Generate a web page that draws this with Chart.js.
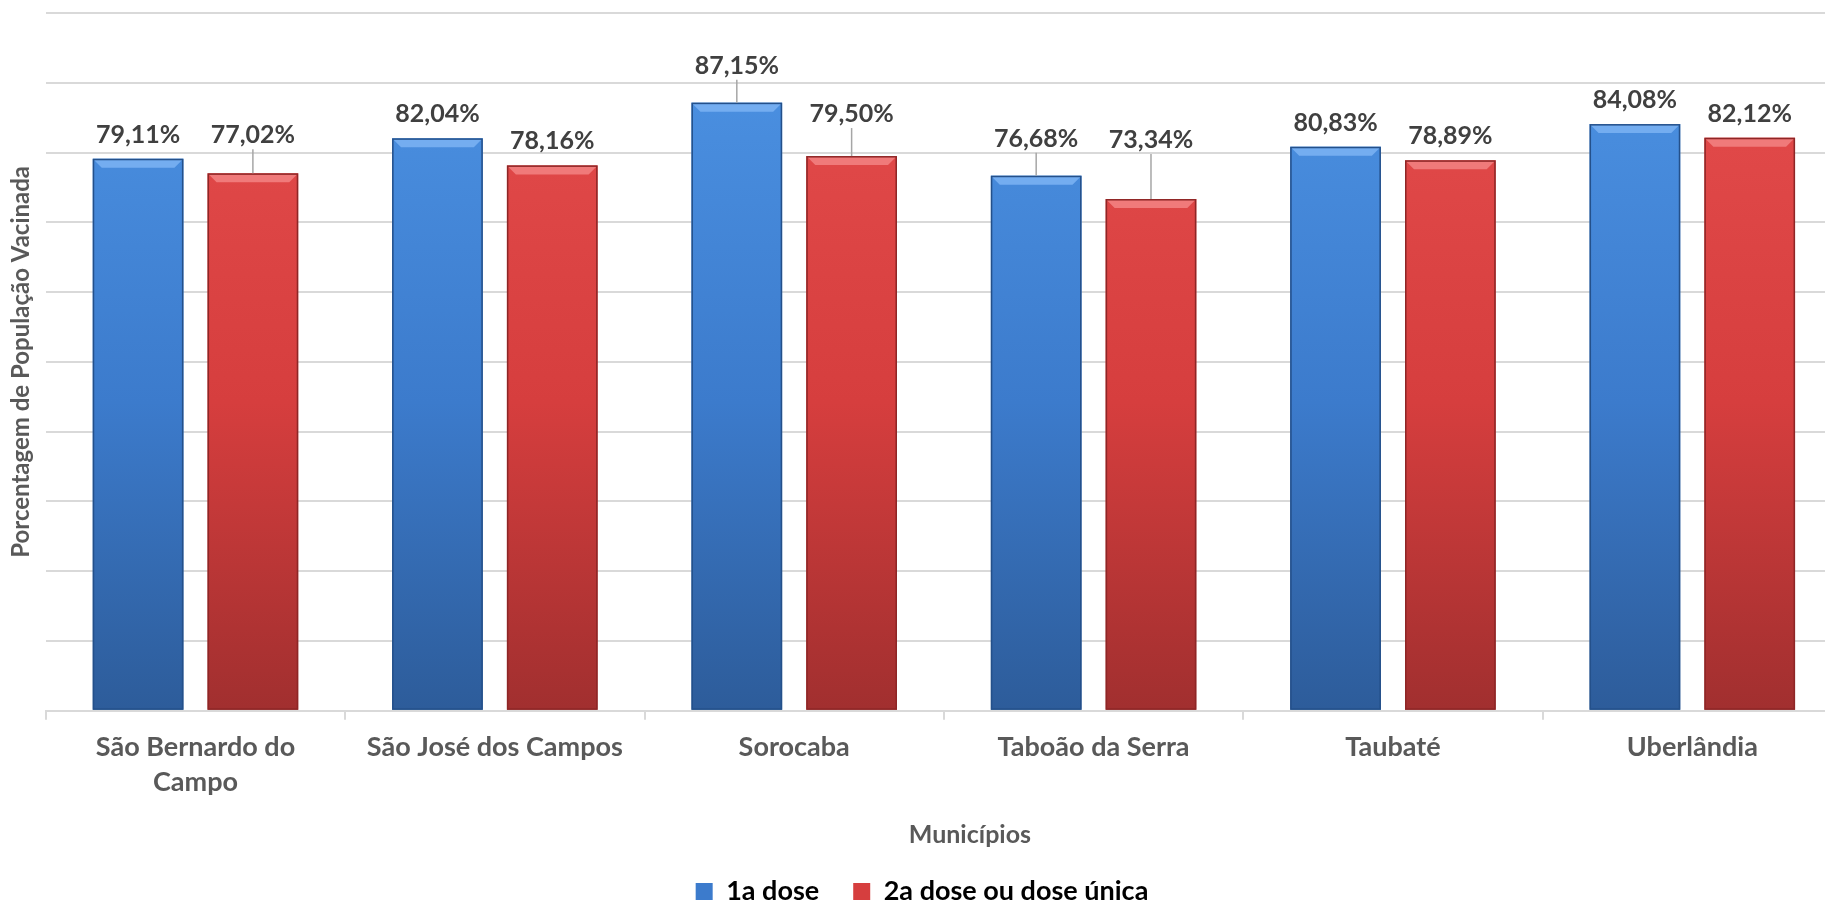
<!DOCTYPE html>
<html>
<head>
<meta charset="utf-8">
<script src="https://cdn.jsdelivr.net/npm/chart.js@4.4.0/dist/chart.umd.min.js"></script>
<style>
  html, body { margin: 0; padding: 0; background: #fff; overflow: hidden; }
  #wrap { width: 1862px; height: 901px; }
</style>
</head>
<body>
<div id="wrap"><canvas id="vacChart"></canvas></div>
<script>
const municipios = [["São Bernardo do", "Campo"], "São José dos Campos", "Sorocaba", "Taboão da Serra", "Taubaté", "Uberlândia"];
const primeiraDose = [79.11, 82.04, 87.15, 76.68, 80.83, 84.08];
const segundaDose = [77.02, 78.16, 79.50, 73.34, 78.89, 82.12];
const seriesNames = ["1a dose", "2a dose ou dose única"];
const xTitle = "Municípios";
const yTitle = "Porcentagem de População Vacinada";

// extra lift (px) for the labels that were dragged up with a leader line
const liftPrimeira = [0, 0, 13, 13, 0, 0];
const liftSegunda = [14, 0, 18, 35, 0, 0];

const FONT = "Lato, 'Open Sans', sans-serif";
const GREY = "#595959";
const blue = { top: "#4a8fe0", mid: "#3c7bcc", bottom: "#2d5c9a", bevel: "#74adf0", edge: "#24508a" };
const red = { top: "#e24a4a", mid: "#d63e3e", bottom: "#a12f2f", bevel: "#f07a7a", edge: "#8e2626" };

function gradient(c) {
  return function (ctx) {
    const chart = ctx.chart;
    const area = chart.chartArea;
    if (!area) return c.mid;
    const g = chart.ctx.createLinearGradient(0, area.top + 80, 0, area.bottom);
    g.addColorStop(0, c.top);
    g.addColorStop(0.5, c.mid);
    g.addColorStop(1, c.bottom);
    return g;
  };
}

function fmt(v) {
  return v.toFixed(2).replace(".", ",") + "%";
}

// bevel on top of bars, like the excel 3d effect
const bevelPlugin = {
  id: "bevel",
  afterDatasetsDraw(chart) {
    const ctx = chart.ctx;
    const styles = [blue, red];
    chart.data.datasets.forEach((ds, i) => {
      const meta = chart.getDatasetMeta(i);
      meta.data.forEach((bar) => {
        const l = bar.x - bar.width / 2;
        const r = bar.x + bar.width / 2;
        const t = bar.y;
        const b = 9;
        ctx.save();
        ctx.fillStyle = styles[i].bevel;
        ctx.beginPath();
        ctx.moveTo(l, t);
        ctx.lineTo(r, t);
        ctx.lineTo(r - b, t + b);
        ctx.lineTo(l + b, t + b);
        ctx.closePath();
        ctx.fill();
        ctx.strokeStyle = styles[i].edge;
        ctx.lineWidth = 1.5;
        ctx.strokeRect(l + 0.75, t + 0.75, bar.width - 1.5, bar.base - t - 1.5);
        ctx.restore();
      });
    });
  }
};

const labelPlugin = {
  id: "valueLabels",
  afterDatasetsDraw(chart) {
    const ctx = chart.ctx;
    const lifts = [liftPrimeira, liftSegunda];
    chart.data.datasets.forEach((ds, i) => {
      const meta = chart.getDatasetMeta(i);
      meta.data.forEach((bar, j) => {
        const lift = lifts[i][j];
        const cy = bar.y - 24 - lift;
        ctx.save();
        if (lift > 0) {
          ctx.strokeStyle = "#a6a6a6";
          ctx.lineWidth = 1.5;
          ctx.beginPath();
          ctx.moveTo(bar.x, cy + 14);
          ctx.lineTo(bar.x, bar.y);
          ctx.stroke();
        }
        ctx.fillStyle = "#404040";
        ctx.font = "bold 25px " + FONT;
        ctx.textAlign = "center";
        ctx.textBaseline = "middle";
        ctx.fillText(fmt(ds.data[j]), bar.x, cy);
        ctx.restore();
      });
    });
  }
};

// excel centres the axis title a bit right of the plot centre
const xTitlePlugin = {
  id: "xTitle",
  afterDraw(chart) {
    const ctx = chart.ctx;
    const area = chart.chartArea;
    ctx.save();
    ctx.fillStyle = GREY;
    ctx.font = "bold 25px " + FONT;
    ctx.textAlign = "center";
    ctx.textBaseline = "middle";
    ctx.fillText(xTitle, (area.left + area.right) / 2 + 26, 835);
    ctx.restore();
  }
};

new Chart(document.getElementById("vacChart"), {
  type: "bar",
  data: {
    labels: municipios,
    datasets: [
      {
        label: seriesNames[0],
        data: primeiraDose,
        backgroundColor: gradient(blue),
        legendColor: blue.mid,
      },
      {
        label: seriesNames[1],
        data: segundaDose,
        backgroundColor: gradient(red),
        legendColor: red.mid,
      },
    ],
  },
  options: {
    responsive: true,
    maintainAspectRatio: false,
    animation: false,
    categoryPercentage: 0.767,
    barPercentage: 0.79,
    layout: { padding: { top: 13, right: 20, left: 2, bottom: -14 } },
    plugins: {
      tooltip: { enabled: false },
      legend: {
        position: "bottom",
        labels: {
          color: GREY,
          font: { family: FONT, size: 27, weight: "bold" },
          boxWidth: 17,
          boxHeight: 17,
          padding: 34,
          generateLabels(chart) {
            return chart.data.datasets.map((ds, i) => ({
              text: ds.label,
              fillStyle: ds.legendColor,
              strokeStyle: ds.legendColor,
              lineWidth: 0,
              datasetIndex: i,
            }));
          },
        },
      },
    },
    scales: {
      x: {
        grid: {
          offset: true,
          drawOnChartArea: false,
          drawTicks: true,
          tickLength: 9,
          color: "#d9d9d9",
          lineWidth: 2,
        },
        border: { color: "#d9d9d9", width: 2 },
        ticks: {
          color: GREY,
          font: { family: FONT, size: 27, weight: "bold", lineHeight: 1.3 },
          padding: 10,
          maxRotation: 0,
          autoSkip: false,
        },
        title: {
          display: true,
          text: xTitle,
          color: "rgba(0,0,0,0)",
          font: { family: FONT, size: 25, weight: "bold" },
          padding: { top: 20, bottom: -16 },
        },
      },
      y: {
        min: 0,
        max: 100,
        ticks: { display: false, stepSize: 10 },
        grid: { color: "#d9d9d9", lineWidth: 2, drawTicks: false },
        border: { display: false },
        title: {
          display: true,
          text: yTitle,
          color: GREY,
          font: { family: FONT, size: 24, weight: "bold" },
          padding: { top: 5, bottom: 10 },
        },
      },
    },
  },
  plugins: [bevelPlugin, labelPlugin, xTitlePlugin],
});
</script>
</body>
</html>
